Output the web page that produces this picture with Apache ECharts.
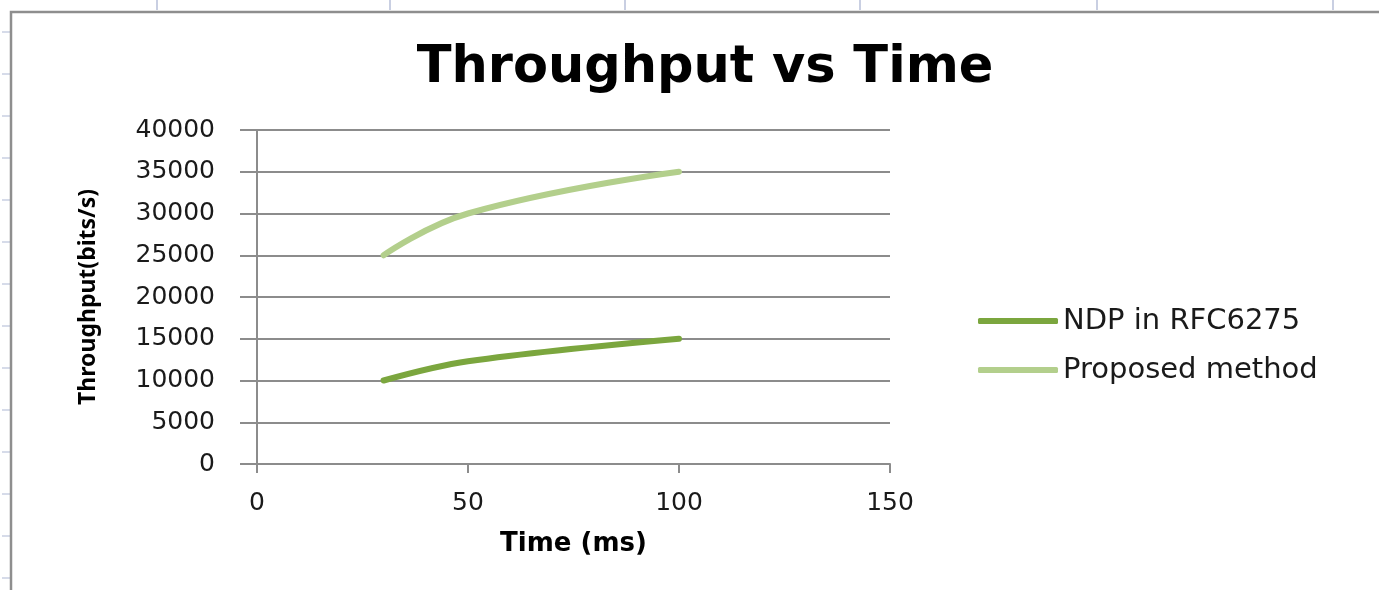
<!DOCTYPE html>
<html>
<head>
<meta charset="utf-8">
<script src="https://cdn.jsdelivr.net/npm/echarts@6/dist/echarts.min.js"></script>
<style>
  html, body { margin: 0; padding: 0; background: #ffffff; }
  #chart { width: 1379px; height: 590px; }
</style>
</head>
<body>
<div id="chart"></div>
<script>
// ---- data ----
const titleText = 'Throughput vs Time';
const xAxisName = 'Time (ms)';
const yAxisName = 'Throughput(bits/s)';
const seriesNames = ['NDP in RFC6275', 'Proposed method'];
const timeMs = [30, 50, 100];
const ndpThroughput = [10000, 12300, 15000];
const proposedThroughput = [25000, 30000, 35000];
const xTicks = [0, 50, 100, 150];
const yTicks = [0, 5000, 10000, 15000, 20000, 25000, 30000, 35000, 40000];

const colors = ['#7ba63e', '#b3cf8c'];

function pairs(xs, ys) { return xs.map((x, i) => [x, ys[i]]); }

// spreadsheet background decorations
const deco = [];
[157, 390, 625, 860, 1097, 1333].forEach(x => {
  deco.push({ type: 'line', shape: { x1: x, y1: 0, x2: x, y2: 10 }, style: { stroke: '#c9cfe2', lineWidth: 2 }, silent: true });
});
for (let y = 32; y < 590; y += 42) {
  deco.push({ type: 'line', shape: { x1: 2, y1: y, x2: 10, y2: y }, style: { stroke: '#c9cfe2', lineWidth: 1.5 }, silent: true });
}
deco.push({ type: 'polyline', shape: { points: [[11, 600], [11, 12], [1390, 12]] }, style: { stroke: '#8e8e8e', lineWidth: 2.5, fill: null }, silent: true });

const chart = echarts.init(document.getElementById('chart'));
chart.setOption({
  backgroundColor: '#ffffff',
  animation: false,
  graphic: deco,
  title: {
    text: titleText,
    left: 700,
    textAlign: 'center',
    top: 38,
    textStyle: { fontFamily: 'DejaVu Sans', fontWeight: 'bold', fontSize: 51, color: '#000000' }
  },
  legend: {
    orient: 'vertical',
    left: 978,
    top: 305,
    padding: 0,
    itemGap: 17,
    itemWidth: 80,
    itemHeight: 6,
    icon: 'roundRect',
    data: seriesNames,
    textStyle: { fontFamily: 'DejaVu Sans', fontSize: 29, color: '#1a1a1a', lineHeight: 32 }
  },
  grid: { left: 257, right: 489, top: 130, bottom: 126, containLabel: false },
  xAxis: {
    type: 'value',
    min: xTicks[0],
    max: xTicks[xTicks.length - 1],
    interval: xTicks[1] - xTicks[0],
    name: xAxisName,
    nameLocation: 'middle',
    nameGap: 67,
    nameTextStyle: { fontFamily: 'DejaVu Sans', fontWeight: 'bold', fontSize: 26, color: '#000000' },
    axisLine: { show: true, lineStyle: { color: '#8c8c8c', width: 2 } },
    axisTick: { show: true, length: 9, lineStyle: { color: '#8c8c8c', width: 2 } },
    axisLabel: { margin: 27, fontFamily: 'DejaVu Sans', fontSize: 25, color: '#1a1a1a', formatter: v => String(v) },
    splitLine: { show: false }
  },
  yAxis: {
    type: 'value',
    min: yTicks[0],
    max: yTicks[yTicks.length - 1],
    interval: yTicks[1] - yTicks[0],
    name: yAxisName,
    nameLocation: 'middle',
    nameGap: 157,
    nameRotate: 90,
    nameTextStyle: { fontFamily: 'Noto Sans', fontWeight: 'bold', fontSize: 23, color: '#000000' },
    axisLine: { show: true, lineStyle: { color: '#8c8c8c', width: 2 } },
    axisTick: { show: true, length: 17, lineStyle: { color: '#8c8c8c', width: 2 } },
    axisLabel: { margin: 42, fontFamily: 'DejaVu Sans', fontSize: 25, color: '#1a1a1a', formatter: v => String(v) },
    splitLine: { show: true, lineStyle: { color: '#8c8c8c', width: 2 } }
  },
  series: [
    {
      name: seriesNames[0],
      type: 'line',
      data: pairs(timeMs, ndpThroughput),
      smooth: 0.35,
      showSymbol: false,
      symbol: 'none',
      color: colors[0],
      lineStyle: { width: 6, color: colors[0], cap: 'round' }
    },
    {
      name: seriesNames[1],
      type: 'line',
      data: pairs(timeMs, proposedThroughput),
      smooth: 0.45,
      showSymbol: false,
      symbol: 'none',
      color: colors[1],
      lineStyle: { width: 6, color: colors[1], cap: 'round' }
    }
  ]
});
</script>
</body>
</html>
